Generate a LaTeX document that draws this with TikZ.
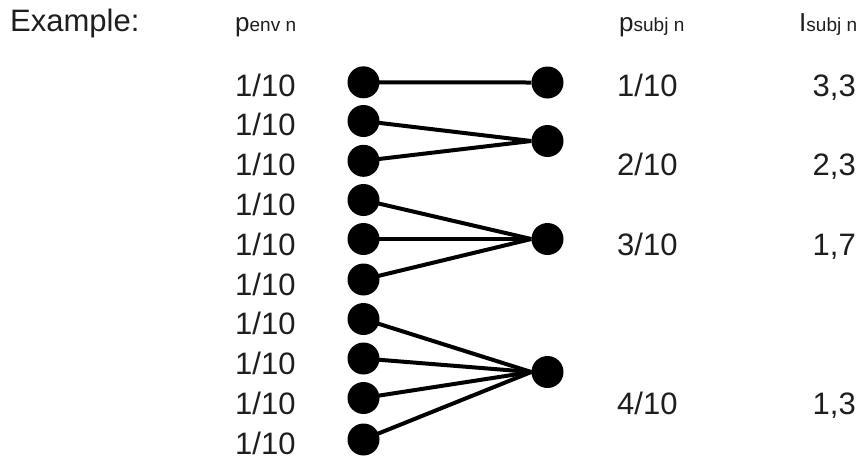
\documentclass[tikz,border=0pt]{standalone}
\usepackage{fontspec}
\setmainfont{Liberation Sans}
\definecolor{txt}{RGB}{30,30,30}
\newcommand{\subtxt}[1]{{\fontsize{19}{19}\selectfont #1}}
\begin{document}
\begin{tikzpicture}[x=1pt,y=-1pt,
  dot/.style={circle,fill=black,inner sep=0pt,minimum size=32pt},
  lbl/.style={inner sep=0pt,anchor=base west,text=txt,font=\fontsize{31}{31}\selectfont},
  lblr/.style={inner sep=0pt,anchor=base east,text=txt,font=\fontsize{31}{31}\selectfont},
  hdr/.style={inner sep=0pt,anchor=base west,text=txt,font=\fontsize{26}{26}\selectfont},
  link/.style={line width=4pt}]
\useasboundingbox (0,0) rectangle (866,459);
% headers
\node[lbl] (ex) at (10,31.5) {Example:};
\node[hdr] (henv) at (235,31) {p\subtxt{env n}};
\node[hdr] (hsubj) at (619,31) {p\subtxt{subj n}};
\node[hdr] (hI) at (799,31) {I\subtxt{subj n}};
% left column
\foreach \i/\yd/\yt in {1/82.3/96, 2/121/135.8, 3/160.8/175.6, 4/200/215.4, 5/239/255.2,
  6/279.5/295, 7/319/334.8, 8/358.5/374.6, 9/398/414.4, 10/439.5/454.2}{
  \node[lbl] (t\i) at (235,\yt) {1/10};
  \node[dot] (l\i) at (363.5,\yd) {};
}
% right column
\node[dot] (r1) at (547.5,82.5) {};
\node[dot] (r2) at (547.5,141) {};
\node[dot] (r3) at (547.5,239) {};
\node[dot] (r4) at (547.5,372) {};
% connectors
\draw[link] (l1.center) -- (r1.west);
\foreach \i in {2,3} {\draw[link] (l\i.center) -- (r2.west);}
\foreach \i in {4,5,6} {\draw[link] (l\i.center) -- (r3.west);}
\foreach \i in {7,8,9,10} {\draw[link] (l\i.center) -- (r4.west);}
% right labels
\node[lbl] (p1) at (617,96) {1/10};
\node[lbl] (p2) at (617,175.6) {2/10};
\node[lbl] (p3) at (617,255.2) {3/10};
\node[lbl] (p4) at (617,414.4) {4/10};
\node[lblr] (i1) at (856,96) {3,3};
\node[lblr] (i2) at (856,175.6) {2,3};
\node[lblr] (i3) at (856,255.2) {1,7};
\node[lblr] (i4) at (856,414.4) {1,3};
\end{tikzpicture}
\end{document}
